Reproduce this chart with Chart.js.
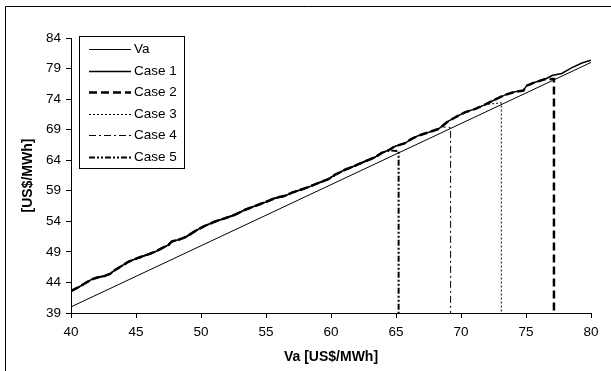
<!DOCTYPE html>
<html>
<head>
<meta charset="utf-8">
<script src="https://cdn.jsdelivr.net/npm/chart.js"></script>
<style>
  html, body { margin: 0; padding: 0; background: #fff; }
  #wrap { position: relative; width: 611px; height: 371px; }
</style>
</head>
<body>
<div id="wrap"><canvas id="chart"></canvas></div>
<script>
// Va line (diagonal reference)
const vaX = [40, 80];
const vaY = [40, 80];

// Case 1 curve
const case1X = [40.0, 40.56, 41.08, 41.59, 42.1, 42.6, 43.0, 43.4, 43.9, 44.4, 44.9, 45.4, 45.95, 46.5, 47.0, 47.5, 47.75, 48.25, 48.8, 49.3,
  49.8, 50.3, 51.08, 51.85, 52.6, 53.4, 54.15, 54.9, 55.7, 56.5, 57.0, 57.5, 58.25, 59.0, 59.8, 60.3, 61.08, 61.85, 62.6, 63.4,
  63.9, 64.4, 64.9, 65.7, 66.2, 66.7, 67.5, 68.25, 68.5, 69.0, 69.8, 70.3, 71.1, 71.85, 72.6, 73.4, 74.15, 74.8, 75.05, 75.7,
  76.5, 77.0, 77.75, 78.5, 79.3, 80.0];
const case1Y = [42.6, 43.2, 43.86, 44.5, 44.85, 45.07, 45.4, 46.05, 46.7, 47.36, 47.8, 48.2, 48.6, 49.05, 49.6, 50.15, 50.7, 50.97, 51.4, 52.07,
  52.7, 53.26, 53.97, 54.5, 55.07, 55.9, 56.5, 57.1, 57.8, 58.2, 58.7, 59.05, 59.6, 60.26, 60.9, 61.6, 62.44, 63.1, 63.8, 64.5,
  65.2, 65.6, 66.26, 66.8, 67.5, 68.0, 68.56, 69.1, 69.5, 70.36, 71.3, 71.84, 72.4, 73.1, 73.9, 74.7, 75.2, 75.4, 76.2, 76.75,
  77.3, 77.85, 78.2, 79.1, 79.9, 80.35];

// Cases 2-5 follow Case 1 and drop to the axis at their cut-off
const caseNames = ['Case 2', 'Case 3', 'Case 4', 'Case 5'];
const caseCut = [77.15, 73.1, 69.2, 65.2];
const caseTop = [77.3, 73.4, 69.3, 65.5];

const xTicks = [40, 45, 50, 55, 60, 65, 70, 75, 80];
const yTicks = [39, 44, 49, 54, 59, 64, 69, 74, 79, 84];

const FONT = "'Liberation Sans', Arial, sans-serif";

function pts(xs, ys) {
  return xs.map((x, i) => ({ x: x, y: ys[i] }));
}

function caseCurve(k) {
  const p = pts(case1X, case1Y).filter(q => q.x <= caseCut[k] - 0.6);
  p.push({ x: caseCut[k], y: caseTop[k] });
  p.push({ x: caseCut[k], y: yTicks[0] });
  return p;
}

const caseStyle = [
  { borderWidth: 2.5, borderDash: [8, 4] },
  { borderWidth: 1, borderDash: [2, 2] },
  { borderWidth: 1, borderDash: [7, 3, 2, 3] },
  { borderWidth: 2, borderDash: [6, 2, 2, 2, 2, 2] }
];

const datasets = [
  { label: 'Va', data: pts(vaX, vaY), borderWidth: 1, borderDash: [] },
  { label: 'Case 1', data: pts(case1X, case1Y), borderWidth: 1.5, borderDash: [] }
];
caseNames.forEach((name, k) => {
  datasets.push({ label: name, data: caseCurve(k), borderWidth: caseStyle[k].borderWidth, borderDash: caseStyle[k].borderDash });
});
datasets.forEach(d => {
  d.borderColor = '#000';
  d.backgroundColor = '#000';
  d.showLine = true;
  d.pointRadius = 0;
  d.pointHoverRadius = 0;
  d.fill = false;
  d.tension = 0;
});

// outer frame (only left and top edges show in the crop)
const framePlugin = {
  id: 'frame',
  beforeDraw(chart) {
    const ctx = chart.ctx;
    ctx.save();
    ctx.strokeStyle = '#000';
    ctx.lineWidth = 1;
    ctx.beginPath();
    ctx.moveTo(5.5, chart.height);
    ctx.lineTo(5.5, 6.5);
    ctx.lineTo(chart.width, 6.5);
    ctx.stroke();
    ctx.restore();
  }
};

// boxed legend inside the plot, top left
const boxLegend = {
  id: 'boxLegend',
  afterDraw(chart) {
    const ctx = chart.ctx;
    const bx = 79.5, by = 36.5, bw = 105, bh = 132;
    ctx.save();
    ctx.fillStyle = '#fff';
    ctx.fillRect(bx, by, bw, bh);
    ctx.strokeStyle = '#000';
    ctx.lineWidth = 1;
    ctx.setLineDash([]);
    ctx.strokeRect(bx, by, bw, bh);
    ctx.font = '13.5px ' + FONT;
    ctx.textBaseline = 'middle';
    ctx.fillStyle = '#000';
    chart.data.datasets.forEach((d, i) => {
      const y = Math.round(49 + i * 21.5) + 0.5;
      ctx.beginPath();
      ctx.setLineDash(d.borderDash || []);
      ctx.lineWidth = Math.min(d.borderWidth, 2.5);
      ctx.strokeStyle = '#000';
      ctx.moveTo(89, y);
      ctx.lineTo(131, y);
      ctx.stroke();
      ctx.setLineDash([]);
      ctx.fillText(d.label, 134, y);
    });
    ctx.restore();
  }
};

new Chart(document.getElementById('chart'), {
  type: 'scatter',
  data: { datasets: datasets },
  options: {
    responsive: true,
    maintainAspectRatio: false,
    animation: false,
    layout: { padding: { left: 0, top: 38, right: 20, bottom: 0 } },
    plugins: {
      legend: { display: false },
      tooltip: { enabled: false }
    },
    scales: {
      x: {
        type: 'linear',
        min: xTicks[0],
        max: xTicks[xTicks.length - 1],
        afterBuildTicks: s => { s.ticks = xTicks.map(v => ({ value: v })); },
        afterFit: s => { s.height = 58; },
        grid: { drawOnChartArea: false, color: '#000', tickLength: 5 },
        border: { color: '#000', width: 1 },
        ticks: { color: '#000', padding: 6, maxRotation: 0, font: { family: FONT, size: 13.5 } },
        title: {
          display: true,
          text: 'Va [US$/MWh]',
          color: '#000',
          padding: { top: 0, bottom: 5 },
          font: { family: FONT, size: 14, weight: 'bold' }
        }
      },
      y: {
        type: 'linear',
        min: yTicks[0],
        max: yTicks[yTicks.length - 1],
        afterBuildTicks: s => { s.ticks = yTicks.map(v => ({ value: v })); },
        afterFit: s => { s.width = 71; },
        grid: { drawOnChartArea: false, color: '#000', tickLength: 5 },
        border: { color: '#000', width: 1 },
        ticks: { color: '#000', padding: 5, font: { family: FONT, size: 13.5 } },
        title: {
          display: true,
          text: '[US$/MWh]',
          color: '#000',
          padding: { top: 20, bottom: 0 },
          font: { family: FONT, size: 14, weight: 'bold' }
        }
      }
    }
  },
  plugins: [framePlugin, boxLegend]
});
</script>
</body>
</html>
